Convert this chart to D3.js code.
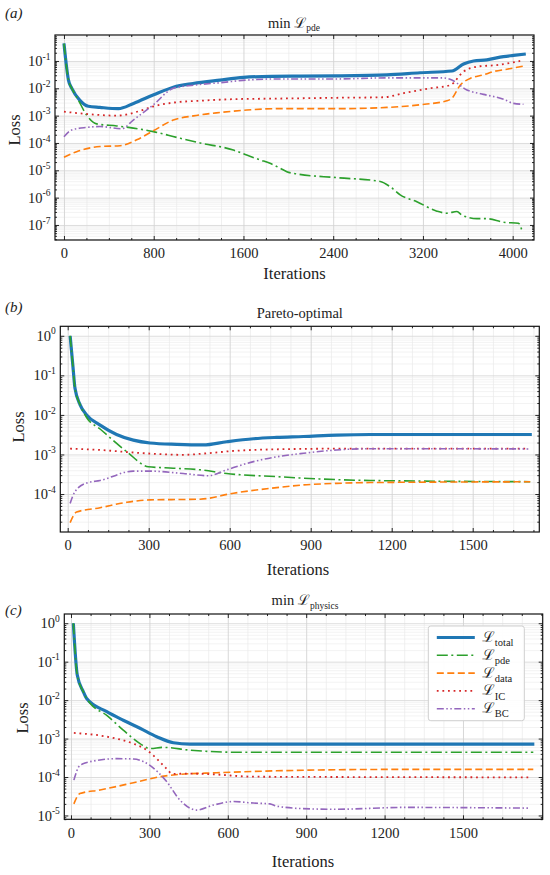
<!DOCTYPE html>
<html><head><meta charset="utf-8">
<script src="https://cdn.jsdelivr.net/npm/d3@7"></script>
<style>
body{margin:0;background:#fff}
svg{display:block}
text{font-family:"Liberation Serif","Times New Roman",serif;fill:#222}
.cal{font-family:"DejaVu Serif","Noto Sans",serif}
</style>
</head><body><svg id="chart" width="550" height="875"></svg>
<script>
// ---------------- DATA ----------------
const seriesKeys = ["total","pde","data","IC","BC"];
const legendLabels = ["total","pde","data","IC","BC"];

// Panel (a): min L_pde   [iteration, loss]
const aTotal = [[0,0.44],[40,2.0e-2],[70,1.0e-2],[140,3.7e-3],[217,2.2e-3],[320,2.0e-3],[485,1.8e-3],[620,2.8e-3],[800,5.8e-3],[975,1.1e-2],[1150,1.5e-2],[1390,2.0e-2],[1600,2.5e-2],[1850,2.75e-2],[2100,2.8e-2],[2432,2.85e-2],[2878,3.1e-2],[3175,3.7e-2],[3458,4.3e-2],[3562,7.8e-2],[3651,0.10],[3770,0.11],[3918,0.145],[4007,0.16],[4117,0.18]];
const aPde = [[0,0.43],[40,2.0e-2],[70,1.0e-2],[128,3.7e-3],[202,1.05e-3],[291,5.0e-4],[470,4.2e-4],[618,3.5e-4],[797,2.6e-4],[1005,1.6e-4],[1213,1.0e-4],[1510,5.5e-5],[1629,3.6e-5],[1748,2.4e-5],[1837,1.8e-5],[1926,1.2e-5],[1986,8.9e-6],[2075,7.4e-6],[2432,5.4e-6],[2819,3.9e-6],[2908,2.5e-6],[2997,1.26e-6],[3146,7.1e-7],[3324,3.2e-7],[3413,2.7e-7],[3503,3.1e-7],[3547,2.3e-7],[3681,1.7e-7],[3770,1.7e-7],[3918,1.26e-7],[4052,1.15e-7],[4081,6.6e-8]];
const aData = [[0,3.0e-5],[113,4.8e-5],[321,7.4e-5],[500,7.9e-5],[648,1.3e-4],[797,2.8e-4],[975,6.9e-4],[1154,9.8e-4],[1391,1.3e-3],[1629,1.6e-3],[1897,1.8e-3],[2432,1.8e-3],[2878,2.0e-3],[3175,2.5e-3],[3413,3.5e-3],[3458,4.3e-3],[3532,1.3e-2],[3621,2.3e-2],[3740,3.1e-2],[3829,4.1e-2],[3948,5.0e-2],[4103,6.6e-2]];
const aIC = [[0,1.4e-3],[200,1.15e-3],[470,1.0e-3],[680,1.5e-3],[800,2.2e-3],[975,3.0e-3],[1213,3.5e-3],[1510,4.0e-3],[1897,4.2e-3],[2432,4.5e-3],[2848,4.7e-3],[3027,6.6e-3],[3265,1.0e-2],[3443,1.3e-2],[3562,4.1e-2],[3681,6.2e-2],[3859,7.1e-2],[4067,0.10]];
const aBC = [[0,1.7e-4],[68,3.0e-4],[202,3.7e-4],[321,4.0e-4],[514,3.3e-4],[618,6.9e-4],[797,2.5e-3],[975,1.0e-2],[1154,1.3e-2],[1391,1.6e-2],[1629,2.0e-2],[1897,2.2e-2],[2432,2.2e-2],[2878,2.4e-2],[3383,2.4e-2],[3458,2.0e-2],[3592,8.7e-3],[3740,6.0e-3],[3918,4.0e-3],[4007,2.8e-3],[4096,2.6e-3]];

// Panel (b): Pareto-optimal
const bTotal = [[9,1.0],[19,0.18],[27,4.7e-2],[46,1.8e-2],[70,1.0e-2],[120,5.5e-3],[181,3.2e-3],[243,2.3e-3],[305,1.95e-3],[404,1.8e-3],[502,1.74e-3],[589,2.1e-3],[688,2.5e-3],[774,2.7e-3],[873,2.85e-3],[996,3.1e-3],[1120,3.2e-3],[1719,3.2e-3]];
const bPde = [[9,1.0],[19,0.18],[27,4.7e-2],[46,1.8e-2],[70,8.6e-3],[120,4.4e-3],[219,1.17e-3],[299,4.9e-4],[391,4.5e-4],[490,4.1e-4],[589,3.3e-4],[774,2.75e-4],[935,2.4e-4],[1120,2.2e-4],[1713,2.05e-4]];
const bData = [[9,1.9e-5],[33,3.5e-5],[120,4.5e-5],[219,6.2e-5],[305,7.1e-5],[490,7.4e-5],[614,1.05e-4],[774,1.45e-4],[873,1.7e-4],[996,1.86e-4],[1120,1.95e-4],[1713,2.04e-4]];
const bIC = [[9,1.4e-3],[120,1.3e-3],[243,1.12e-3],[428,9.8e-4],[515,1.07e-3],[614,1.23e-3],[774,1.35e-3],[996,1.4e-3],[1706,1.4e-3]];
const bBC = [[9,5.8e-5],[27,1.15e-4],[70,1.9e-4],[120,2.2e-4],[243,3.8e-4],[305,3.8e-4],[428,3.3e-4],[521,2.9e-4],[589,4.1e-4],[688,6.6e-4],[774,8.7e-4],[873,1.07e-3],[996,1.3e-3],[1120,1.4e-3],[1706,1.38e-3]];

// Panel (c): min L_physics
const cTotal = [[9,1.0],[24,4.5e-2],[47,1.66e-2],[60,1.1e-2],[137,5.0e-3],[200,3.0e-3],[264,1.86e-3],[328,1.12e-3],[392,7.8e-4],[455,7.2e-4],[1773,7.2e-4]];
const cPde = [[9,1.0],[24,4.5e-2],[47,1.66e-2],[60,1.1e-2],[73,8.3e-3],[137,4.0e-3],[200,1.66e-3],[264,7.4e-4],[302,5.5e-4],[352,5.9e-4],[455,5.0e-4],[634,4.4e-4],[1769,4.4e-4]];
const cData = [[11,2.0e-5],[34,3.7e-5],[111,4.6e-5],[239,7.1e-5],[341,1.02e-4],[417,1.17e-4],[557,1.29e-4],[787,1.45e-4],[889,1.5e-4],[1272,1.58e-4],[1769,1.58e-4]];
const cIC = [[11,1.4e-3],[137,1.12e-3],[238,7.4e-4],[290,5.0e-4],[328,3.0e-4],[360,1.8e-4],[390,1.2e-4],[443,1.23e-4],[545,1.17e-4],[698,1.02e-4],[1756,9.8e-5]];
const cBC = [[11,8.3e-5],[34,2.0e-4],[85,2.6e-4],[175,3.0e-4],[239,2.95e-4],[302,2.0e-4],[366,7.6e-5],[417,2.5e-5],[481,1.38e-5],[545,1.86e-5],[621,2.3e-5],[698,2.1e-5],[761,2.0e-5],[787,1.74e-5],[915,1.48e-5],[1017,1.45e-5],[1272,1.62e-5],[1756,1.55e-5]];

// Tick labels
const aXTicks = [0,800,1600,2400,3200,4000];
const bXTicks = [0,300,600,900,1200,1500];
const cXTicks = [0,300,600,900,1200,1500];
const aYExps = [-1,-2,-3,-4,-5,-6,-7];
const bYExps = [0,-1,-2,-3,-4];
const cYExps = [0,-1,-2,-3,-4,-5];

// ---------------- STYLE ----------------
const styles = {
  total:{color:"#1f77b4", w:3.2, dash:null},
  pde:{color:"#2ca02c", w:1.6, dash:"11,3.5,2,3.5"},
  data:{color:"#ff7f0e", w:1.6, dash:"7,3.5"},
  IC:{color:"#d62728", w:1.8, dash:"1.8,3.8"},
  BC:{color:"#9467bd", w:1.6, dash:"7,2.5,1.5,2.5,1.5,2.5"}
};

const svg = d3.select("#chart");
const defs = svg.append("defs");

function calL(textSel, sub, mainSize, subSize){
  textSel.append("tspan").attr("class","cal").attr("font-size",mainSize).text("\u2112");
  textSel.append("tspan").attr("font-size",subSize).attr("dy",subSize*0.4).text(sub);
}

function panel(p, idx){
  const g = svg.append("g");
  const x = d3.scaleLinear().domain(p.xDom).range([p.l,p.r]);
  const y = d3.scaleLog().domain(p.yDom).range([p.b,p.t]);
  const W = p.r-p.l, H = p.b-p.t;

  const e0 = Math.floor(Math.log10(p.yDom[0])), e1 = Math.ceil(Math.log10(p.yDom[1]));
  const yMajor = p.yExps.map(e=>Math.pow(10,e));
  const yMinor = [];
  for(let e=e0;e<=e1;e++) for(let k=2;k<10;k++){const v=k*Math.pow(10,e); if(v>=p.yDom[0]&&v<=p.yDom[1]) yMinor.push(v);}
  const xMinor = d3.range(0,p.xDom[1],p.xMinor).filter(v=>!p.xTicks.includes(v) && v>=p.xDom[0]);

  // gridlines
  g.append("g").attr("transform",`translate(${p.l},0)`)
    .call(d3.axisLeft(y).tickValues(yMinor).tickSize(-W).tickFormat(""))
    .call(s=>{s.select(".domain").remove(); s.selectAll("line").attr("stroke","#ebebeb").attr("stroke-width",0.6);});
  g.append("g").attr("transform",`translate(0,${p.b})`)
    .call(d3.axisBottom(x).tickValues(xMinor).tickSize(-H).tickFormat(""))
    .call(s=>{s.select(".domain").remove(); s.selectAll("line").attr("stroke","#e9e9e9").attr("stroke-width",0.7);});
  g.append("g").attr("transform",`translate(${p.l},0)`)
    .call(d3.axisLeft(y).tickValues(yMajor).tickSize(-W).tickFormat(""))
    .call(s=>{s.select(".domain").remove(); s.selectAll("line").attr("stroke","#d9d9d9").attr("stroke-width",0.9);});
  g.append("g").attr("transform",`translate(0,${p.b})`)
    .call(d3.axisBottom(x).tickValues(p.xTicks).tickSize(-H).tickFormat(""))
    .call(s=>{s.select(".domain").remove(); s.selectAll("line").attr("stroke","#d4d4d4").attr("stroke-width",0.9);});

  const cid = "clip"+idx;
  defs.append("clipPath").attr("id",cid).append("rect").attr("x",p.l).attr("y",p.t).attr("width",W).attr("height",H);

  const line = d3.line().x(d=>x(d[0])).y(d=>y(d[1])).curve(d3.curveMonotoneX);
  const lg = g.append("g").attr("clip-path",`url(#${cid})`);
  seriesKeys.forEach((k,i)=>{
    const st = styles[k];
    lg.append("path").datum(p.series[i]).attr("d",line)
      .attr("fill","none").attr("stroke",st.color).attr("stroke-width",st.w)
      .attr("stroke-dasharray",st.dash).attr("stroke-linejoin","round");
  });

  const tickStyle = s=>{s.select(".domain").remove(); s.selectAll("line").attr("stroke","#111").attr("stroke-width",0.9);};
  g.append("g").attr("transform",`translate(0,${p.b})`)
    .call(d3.axisBottom(x).tickValues(p.xTicks).tickSize(-4).tickPadding(8).tickFormat(d3.format("d")))
    .call(tickStyle)
    .call(s=>s.selectAll("text").attr("font-size",14.5).attr("font-family","Liberation Serif").attr("fill","#222"));
  g.append("g").attr("transform",`translate(0,${p.b})`)
    .call(d3.axisBottom(x).tickValues(xMinor).tickSize(-2).tickFormat("")).call(tickStyle);
  g.append("g").attr("transform",`translate(0,${p.t})`)
    .call(d3.axisTop(x).tickValues(p.xTicks).tickSize(-4).tickFormat("")).call(tickStyle);
  g.append("g").attr("transform",`translate(0,${p.t})`)
    .call(d3.axisTop(x).tickValues(xMinor).tickSize(-2).tickFormat("")).call(tickStyle);
  const yl = g.append("g").attr("transform",`translate(${p.l},0)`)
    .call(d3.axisLeft(y).tickValues(yMajor).tickSize(-4).tickPadding(4.5).tickFormat(""))
    .call(tickStyle);
  yl.selectAll(".tick text").each(function(d){
    const t = d3.select(this).attr("font-size",14.5).attr("font-family","Liberation Serif").attr("fill","#222").attr("dy","0.32em");
    const e = Math.round(Math.log10(d));
    t.append("tspan").text("10");
    t.append("tspan").attr("font-size",9.5).attr("dy",-6.5).text(e===0?"0":"-"+Math.abs(e));
  });
  g.append("g").attr("transform",`translate(${p.l},0)`)
    .call(d3.axisLeft(y).tickValues(yMinor).tickSize(-2).tickFormat("")).call(tickStyle);
  g.append("g").attr("transform",`translate(${p.r},0)`)
    .call(d3.axisRight(y).tickValues(yMajor).tickSize(-4).tickFormat("")).call(tickStyle);
  g.append("g").attr("transform",`translate(${p.r},0)`)
    .call(d3.axisRight(y).tickValues(yMinor).tickSize(-2).tickFormat("")).call(tickStyle);

  g.append("rect").attr("x",p.l).attr("y",p.t).attr("width",W).attr("height",H)
    .attr("fill","none").attr("stroke","#111").attr("stroke-width",1.2);

  g.append("text").attr("x",5).attr("y",p.labelY).attr("font-size",15).attr("font-style","italic").text(p.label);
  const tt = g.append("text").attr("x",p.titleX).attr("y",p.titleY).attr("text-anchor","middle").attr("font-size",14.5);
  if(p.titleSub){
    tt.append("tspan").text("min ");
    calL(tt, p.titleSub, 14.5, 9.5);
  } else tt.text(p.title);
  g.append("text").attr("transform",`translate(${p.lossX},${p.lossY}) rotate(-90)`)
    .attr("text-anchor","middle").attr("font-size",16.5).text("Loss");
  g.append("text").attr("x",p.iterX).attr("y",p.iterY).attr("text-anchor","middle").attr("font-size",16.5).text("Iterations");

  if(p.legend){
    const L = p.legend;
    const lgd = g.append("g");
    lgd.append("rect").attr("x",L.x).attr("y",L.y).attr("width",L.w).attr("height",L.h).attr("rx",2.5)
      .attr("fill","#fff").attr("fill-opacity",0.9).attr("stroke","#cfcfcf").attr("stroke-width",1);
    seriesKeys.forEach((k,i)=>{
      const st = styles[k];
      const yy = L.y + 11.5 + i*17.8;
      lgd.append("line").attr("x1",L.x+8.5).attr("x2",L.x+46.5).attr("y1",yy).attr("y2",yy)
        .attr("stroke",st.color).attr("stroke-width",st.w).attr("stroke-dasharray",st.dash);
      const t = lgd.append("text").attr("x",L.x+54).attr("y",yy+4.5).attr("font-size",15);
      calL(t, legendLabels[i], 15, 10.5);
    });
  }
}

panel({l:55,r:534,t:35,b:240,xDom:[-80,4190],yDom:[Math.pow(10,-7.55),Math.pow(10,-0.05)],
  xTicks:aXTicks,xMinor:200,yExps:aYExps,series:[aTotal,aPde,aData,aIC,aBC],
  label:"(a)",labelY:18,titleSub:"pde",titleX:294,titleY:27.5,lossX:19.5,lossY:130,iterX:294.5,iterY:278.5},0);
panel({l:60.3,r:539.3,t:326.3,b:532,xDom:[-27.4,1746.7],yDom:[Math.pow(10,-4.96),Math.pow(10,0.24)],
  xTicks:bXTicks,xMinor:75,yExps:bYExps,series:[bTotal,bPde,bData,bIC,bBC],
  label:"(b)",labelY:312,title:"Pareto-optimal",titleX:299.8,titleY:317.5,lossX:23.5,lossY:427,iterX:298,iterY:575},1);
panel({l:64.3,r:542.7,t:614,b:819.3,xDom:[-25.6,1805],yDom:[Math.pow(10,-5.1),Math.pow(10,0.24)],
  xTicks:cXTicks,xMinor:75,yExps:cYExps,series:[cTotal,cPde,cData,cIC,cBC],
  label:"(c)",labelY:615,titleSub:"physics",titleX:305,titleY:605,lossX:27.5,lossY:718,iterX:303,iterY:867,
  legend:{x:428.3,y:626,w:96,h:94.7}},2);
</script>
</body></html>
